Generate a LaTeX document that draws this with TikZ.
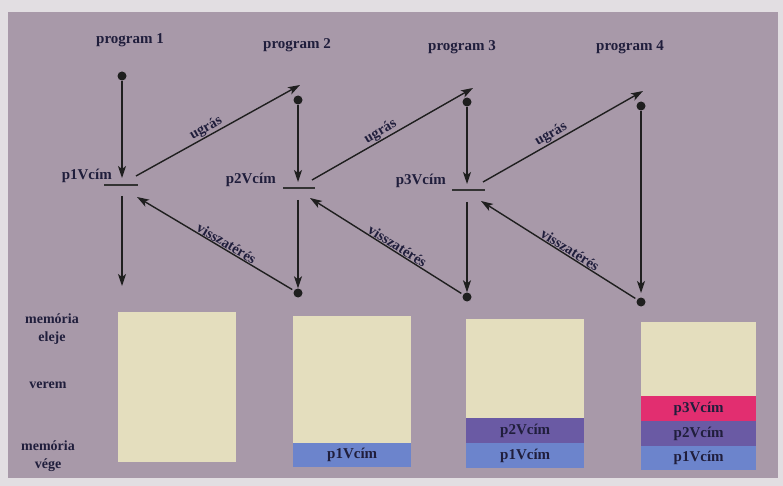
\documentclass[tikz,border=0pt]{standalone}
\usepackage{fontspec}
\setmainfont{Liberation Serif}
\usetikzlibrary{arrows.meta}
\definecolor{outer}{RGB}{226,222,226}
\definecolor{panel}{RGB}{168,153,169}
\definecolor{cream}{RGB}{228,222,190}
\definecolor{memblue}{RGB}{108,132,204}
\definecolor{mempurple}{RGB}{106,90,164}
\definecolor{mempink}{RGB}{226,46,112}
\definecolor{ink}{RGB}{32,30,60}
\begin{document}
\begin{tikzpicture}[x=1pt,y=-1pt,
  lbl/.style={font=\bfseries\fontsize{15}{17}\selectfont, text=ink, inner sep=1pt},
  alb/.style={lbl, sloped, above, pos=0.45, inner sep=0.5pt, font=\bfseries\fontsize{14.5}{16}\selectfont},
  dot/.style={circle, fill=black!88, inner sep=0pt, minimum size=9pt},
  arr/.style={line width=1.4pt, draw=black!88, -{Stealth[length=12pt,width=8pt,inset=3pt]}},
  bar/.style={line width=1.7pt, draw=black!80},
  mem/.style={draw=none, minimum width=118pt, anchor=north west, inner sep=0pt},
  slot/.style={mem, minimum height=24pt, font=\bfseries\fontsize{15}{17}\selectfont, text=ink}]
\useasboundingbox (0,0) rectangle (783,486);
\fill[outer] (0,0) rectangle (783,486);
\fill[panel] (8,12) rectangle (778,478);

% titles
\node[lbl] (t1) at (130,40) {program 1};
\node[lbl] (t2) at (297,45) {program 2};
\node[lbl] (t3) at (462,47) {program 3};
\node[lbl] (t4) at (630,47) {program 4};

% dots
\node[dot] (d1t) at (122,76) {};
\node[dot] (d2t) at (298,100) {};
\node[dot] (d3t) at (467,102) {};
\node[dot] (d4t) at (641,106) {};
\node[dot] (d2b) at (298,293) {};
\node[dot] (d3b) at (467,297) {};
\node[dot] (d4b) at (641,302) {};

% bars
\coordinate (b1l) at (104,185); \coordinate (b1r) at (138,185);
\coordinate (b2l) at (283,188); \coordinate (b2r) at (315,188);
\coordinate (b3l) at (452,190); \coordinate (b3r) at (485,190);
\draw[bar] (b1l) -- (b1r);
\draw[bar] (b2l) -- (b2r);
\draw[bar] (b3l) -- (b3r);

\node[lbl, anchor=east] (p1) at (113,176) {p1Vcím};
\node[lbl, anchor=east] (p2) at (277,180) {p2Vcím};
\node[lbl, anchor=east] (p3) at (447,181) {p3Vcím};

% arrow end points
\coordinate (a1) at (122,178);
\coordinate (a2) at (298,182);
\coordinate (a3) at (467,184);
\coordinate (a4) at (641,293);
\coordinate (o1) at (122,196);
\coordinate (e1) at (122,286);
\coordinate (o2) at (298,200);
\coordinate (o3) at (467,202);
\coordinate (u1s) at (136,176); \coordinate (u1e) at (300,85);
\coordinate (u2s) at (312,180); \coordinate (u2e) at (473,88);
\coordinate (u3s) at (483,182); \coordinate (u3e) at (643,91);
\coordinate (v1e) at (137,197);
\coordinate (v2e) at (310,198);
\coordinate (v3e) at (481,201);

% vertical arrows
\draw[arr] (d1t) -- (a1);
\draw[arr] (d2t) -- (a2);
\draw[arr] (d3t) -- (a3);
\draw[arr] (d4t) -- (a4);
\draw[arr] (o1) -- (e1);
\draw[arr] (o2) -- (d2b);
\draw[arr] (o3) -- (d3b);

% jumps
\draw[arr] (u1s) -- node[alb] {ugrás} (u1e);
\draw[arr] (u2s) -- node[alb] {ugrás} (u2e);
\draw[arr] (u3s) -- node[alb] {ugrás} (u3e);

% returns
\draw[arr, shorten <=2pt] (d2b) -- node[alb] {visszatérés} (v1e);
\draw[arr, shorten <=2pt] (d3b) -- node[alb] {visszatérés} (v2e);
\draw[arr, shorten <=2pt] (d4b) -- node[alb] {visszatérés} (v3e);

% left labels
\node[lbl, align=center, font=\bfseries\fontsize{14}{18}\selectfont] (me) at (52,329) {memória\\eleje};
\node[lbl, font=\bfseries\fontsize{14}{16}\selectfont] (ve) at (48,385) {verem};
\node[lbl, align=center, font=\bfseries\fontsize{14}{18}\selectfont] (mv) at (48,456) {memória\\vége};

% memory columns
\node[mem, fill=cream, minimum height=150pt] (m1) at (118,312) {};

\node[mem, fill=cream, minimum height=127pt] (m2) at (293,316) {};
\node[slot, fill=memblue] (m2a) at (293,443) {p1Vcím};

\node[mem, fill=cream, minimum height=99pt] (m3) at (466,319) {};
\node[slot, fill=mempurple, minimum height=25pt] (m3b) at (466,418) {p2Vcím};
\node[slot, fill=memblue, minimum height=25pt] (m3a) at (466,443) {p1Vcím};

\node[mem, fill=cream, minimum width=115pt, minimum height=74pt] (m4) at (641,322) {};
\node[slot, fill=mempink, minimum width=115pt, minimum height=25pt] (m4c) at (641,396) {p3Vcím};
\node[slot, fill=mempurple, minimum width=115pt, minimum height=25pt] (m4b) at (641,421) {p2Vcím};
\node[slot, fill=memblue, minimum width=115pt, minimum height=24pt] (m4a) at (641,446) {p1Vcím};
\end{tikzpicture}
\end{document}
